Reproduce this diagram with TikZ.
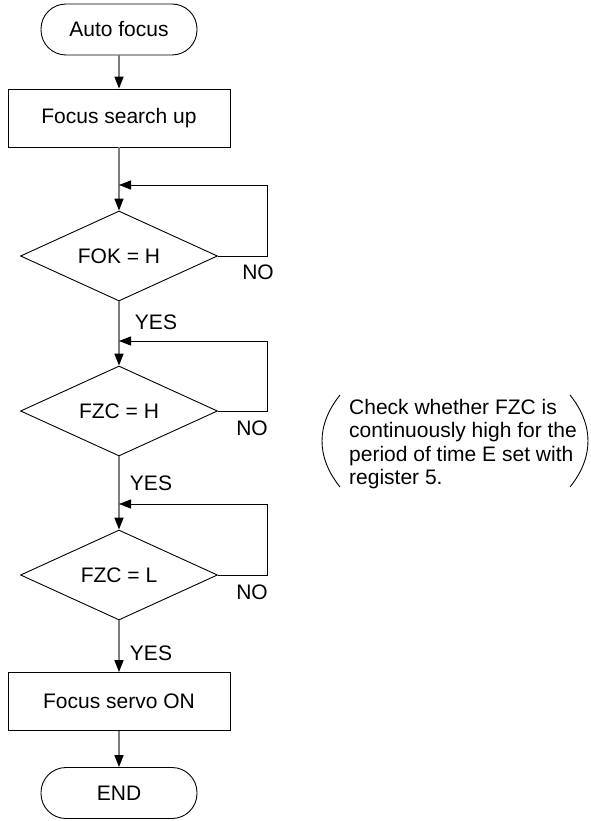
\documentclass[tikz,border=0pt]{standalone}
\usepackage{fontspec}
\setmainfont{Liberation Sans}
\usetikzlibrary{shapes.geometric,arrows.meta}
\begin{document}
\begin{tikzpicture}[x=1pt,y=-1pt,
  every node/.style={font=\fontsize{21}{23.5}\selectfont},
  term/.style={draw=black,line width=0.9pt,rounded corners=25pt,minimum width=156pt,minimum height=51pt,inner sep=0pt},
  proc/.style={draw=black,line width=0.9pt,minimum width=222pt,minimum height=58pt,inner sep=0pt},
  dec/.style={draw=black,line width=0.9pt,diamond,shape aspect=2.19,minimum width=197pt,minimum height=90pt,inner sep=0pt},
  vline/.style={draw={rgb,255:red,125;green,125;blue,125},line width=1.6pt,-{Triangle[length=12pt,width=9pt,color=black]}},
  hline/.style={draw=black,line width=0.9pt,-{Triangle[length=12pt,width=9pt,color=black]}},
  lbl/.style={inner sep=0pt,anchor=center}]
\useasboundingbox (0,0) rectangle (590,821);
\node[term] (start) at (119,29.5) {Auto focus};
\node[proc] (box1) at (119,118) {Focus search up};
\node[dec] (d1) at (119,256) {FOK = H};
\node[dec] (d2) at (119,411) {FZC = H};
\node[dec] (d3) at (119,575) {FZC = L};
\node[proc] (box2) at (119,701.5) {Focus servo ON};
\node[term] (end) at (119,793) {END};
\coordinate (j1) at (119,185);
\coordinate (j2) at (119,341);
\coordinate (j3) at (119,504);
\coordinate (r1) at (267,256);
\coordinate (r2) at (267,411);
\coordinate (r3) at (267,575);
\draw[vline] (start) -- (box1);
\draw[vline] (box1) -- (d1);
\draw[vline] (d1) -- (d2);
\draw[vline] (d2) -- (d3);
\draw[vline] (d3) -- (box2);
\draw[vline] (box2) -- (end);
\draw[hline] (d1.east) -- (r1) |- (j1);
\draw[hline] (d2.east) -- (r2) |- (j2);
\draw[hline] (d3.east) -- (r3) |- (j3);
\node[lbl] (no1) at (258,272) {NO};
\node[lbl] (no2) at (252,428) {NO};
\node[lbl] (no3) at (252,592) {NO};
\node[lbl] (yes1) at (156,322) {YES};
\node[lbl] (yes2) at (151,483) {YES};
\node[lbl] (yes3) at (151,653) {YES};
\node[inner sep=0pt,anchor=west,align=left] (note) at (349,444) {Check whether FZC is\\continuously high for the\\period of time E set with\\register 5.};
\draw[line width=0.9pt] (340,395) .. controls (316,425) and (316,457) .. (340,487);
\draw[line width=0.9pt] (570,395) .. controls (594,425) and (594,457) .. (570,487);
\end{tikzpicture}
\end{document}
